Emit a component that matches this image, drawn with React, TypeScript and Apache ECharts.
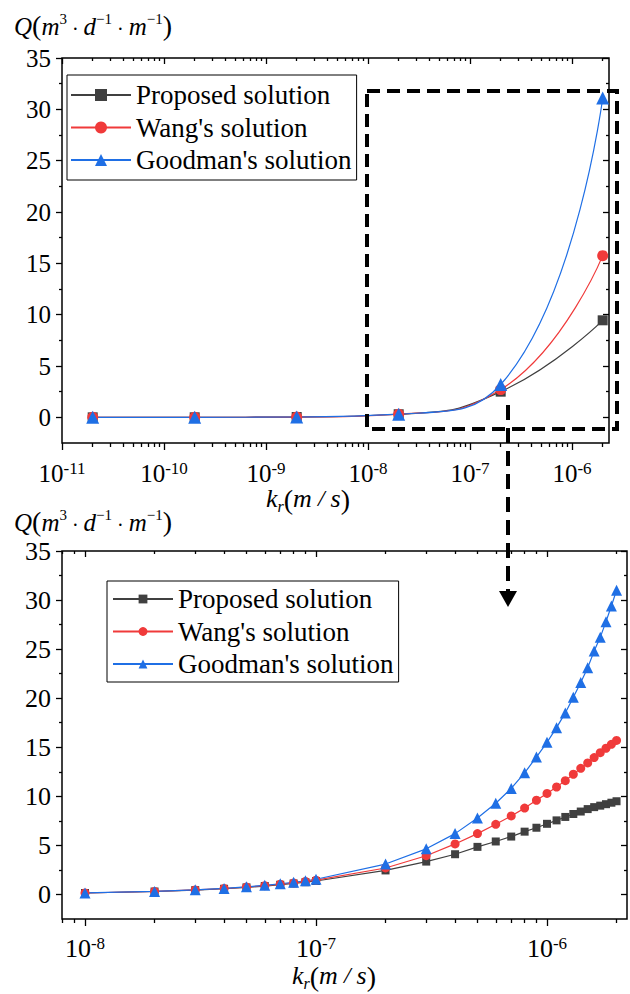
import React, { useEffect, useRef } from "react";
import * as echarts from "echarts";

// ---------- data ----------
const seriesNames = ["Proposed solution", "Wang's solution", "Goodman's solution"];

// upper chart: k_r values (m/s) and Q values at the markers
const kTop = [2e-11, 2e-10, 2e-9, 2e-8, 2e-7, 2e-6];
const proposedTop = [0.0003, 0.003, 0.03, 0.3, 2.5, 9.45];
const wangTop = [0.0003, 0.003, 0.03, 0.31, 2.7, 15.75];
const goodmanTop = [0.0003, 0.0031, 0.031, 0.31, 3.2, 31.1];

// lower chart: dense k_r values (m/s)
const kDense = [
  1e-8, 2e-8, 3e-8, 4e-8, 5e-8, 6e-8, 7e-8, 8e-8, 9e-8, 1e-7,
  2e-7, 3e-7, 4e-7, 5e-7, 6e-7, 7e-7, 8e-7, 9e-7, 1e-6,
  1.1e-6, 1.2e-6, 1.3e-6, 1.4e-6, 1.5e-6, 1.6e-6, 1.7e-6, 1.8e-6, 1.9e-6, 2e-6,
];
const proposedDense = [
  0.15, 0.3, 0.44, 0.58, 0.72, 0.86, 0.99, 1.12, 1.25, 1.37,
  2.45, 3.35, 4.1, 4.85, 5.4, 5.9, 6.4, 6.8, 7.2,
  7.55, 7.9, 8.2, 8.45, 8.7, 8.9, 9.05, 9.2, 9.35, 9.5,
];
const wangDense = [
  0.15, 0.31, 0.46, 0.61, 0.75, 0.9, 1.04, 1.18, 1.32, 1.46,
  2.7, 3.95, 5.15, 6.2, 7.15, 8.0, 8.8, 9.6, 10.3,
  10.95, 11.6, 12.25, 12.85, 13.4, 13.95, 14.45, 14.9, 15.3, 15.7,
];
const goodmanDense = [
  0.16, 0.31, 0.47, 0.62, 0.78, 0.93, 1.09, 1.24, 1.4, 1.55,
  3.1, 4.65, 6.2, 7.8, 9.3, 10.8, 12.4, 14.0, 15.5,
  17.0, 18.5, 20.1, 21.6, 23.1, 24.8, 26.2, 27.8, 29.4, 31.0,
];

// ticks
const yMajorTicks = [0, 5, 10, 15, 20, 25, 30, 35];
const yMinorTicks = [2.5, 7.5, 12.5, 17.5, 22.5, 27.5, 32.5];
const topDecades = [-11, -10, -9, -8, -7, -6];
const bottomDecades = [-8, -7, -6];

// ---------- styling ----------
const FONT = "'Liberation Serif', 'Times New Roman', serif";
const GRAY = "#404040";
const RED = "#f03a3a";
const BLUE = "#1f6fe5";
const colors = [GRAY, RED, BLUE];
const symbols = ["rect", "circle", "triangle"];

function minorLogTicks(min: number, max: number) {
  const out: number[] = [];
  for (let n = Math.floor(min); n <= Math.ceil(max); n++) {
    for (let j = 2; j <= 9; j++) {
      const v = n + Math.log10(j);
      if (v >= min && v <= max) out.push(v);
    }
  }
  return out;
}

const tickLine = { color: "#000", width: 1.3 };

function makeXAxes(grid: number, min: number, max: number, decades: number[], margin: number, fs: number) {
  const minors = minorLogTicks(min, max);
  const base = {
    gridIndex: grid,
    type: "value",
    min,
    max,
    splitLine: { show: false },
    axisLine: { show: false, onZero: false },
  };
  return [
    {
      ...base,
      position: "bottom",
      axisTick: { show: true, customValues: decades, length: 7, lineStyle: tickLine },
      axisLabel: {
        show: true,
        customValues: decades,
        margin,
        formatter: (v: number) => `{b|10}{s|${Math.round(v)}}`,
        rich: {
          b: { fontSize: fs, fontFamily: FONT, color: "#000", lineHeight: 26, verticalAlign: "bottom" },
          s: { fontSize: 17, fontFamily: FONT, color: "#000", lineHeight: 14, verticalAlign: "top" },
        },
      },
    },
    {
      ...base,
      position: "bottom",
      axisTick: { show: true, customValues: minors, length: 4, lineStyle: tickLine },
      axisLabel: { show: false },
    },
    {
      ...base,
      position: "top",
      axisTick: { show: true, inside: true, customValues: decades, length: 6, lineStyle: tickLine },
      axisLabel: { show: false },
    },
    {
      ...base,
      position: "top",
      axisTick: { show: true, inside: true, customValues: minors, length: 3, lineStyle: tickLine },
      axisLabel: { show: false },
    },
  ];
}

function makeYAxes(grid: number, fs: number) {
  const base = {
    gridIndex: grid,
    type: "value",
    min: -2.5,
    max: 35,
    splitLine: { show: false },
    axisLine: { show: false, onZero: false },
  };
  return [
    {
      ...base,
      position: "left",
      axisTick: { show: true, customValues: yMajorTicks, length: 6, lineStyle: tickLine },
      axisLabel: {
        show: true,
        customValues: yMajorTicks,
        margin: 11,
        fontSize: fs,
        fontFamily: FONT,
        color: "#000",
      },
    },
    {
      ...base,
      position: "left",
      axisTick: { show: true, customValues: yMinorTicks, length: 3, lineStyle: tickLine },
      axisLabel: { show: false },
    },
    {
      ...base,
      position: "right",
      axisTick: { show: true, inside: true, customValues: yMajorTicks, length: 6, lineStyle: tickLine },
      axisLabel: { show: false },
    },
    {
      ...base,
      position: "right",
      axisTick: { show: true, inside: true, customValues: yMinorTicks, length: 3, lineStyle: tickLine },
      axisLabel: { show: false },
    },
  ];
}

function makeSeries(axisIndex: number, ks: number[], valuesList: number[][], sizes: number[], smooth: boolean) {
  return seriesNames.map((name, s) => ({
    name,
    type: "line",
    xAxisIndex: axisIndex,
    yAxisIndex: axisIndex,
    symbol: symbols[s],
    symbolSize: sizes[s],
    showSymbol: true,
    showAllSymbol: true,
    smooth,
    itemStyle: { color: colors[s] },
    lineStyle: { color: colors[s], width: 1.2 },
    emphasis: { disabled: true },
    data: ks.map((k, i) => [Math.log10(k), valuesList[s][i]]),
  }));
}

function titleQ(x: number, y: number) {
  return {
    type: "text",
    x,
    y,
    style: {
      text: "{i|Q}{p|(}{i|m}{s|3}{n| · }{i|d}{s|−1}{n| · }{i|m}{s|−1}{p|)}",
      verticalAlign: "middle",
      align: "left",
      rich: {
        i: { fontStyle: "italic", fontSize: 25, fontFamily: FONT, fill: "#000", lineHeight: 28, verticalAlign: "bottom" },
        p: { fontSize: 28, fontFamily: FONT, fill: "#000", lineHeight: 28, verticalAlign: "bottom" },
        n: { fontSize: 20, fontFamily: FONT, fill: "#000", lineHeight: 28, verticalAlign: "bottom" },
        s: { fontSize: 15, fontFamily: FONT, fill: "#000", lineHeight: 14, verticalAlign: "top" },
      },
    },
  };
}

function titleK(x: number, y: number) {
  return {
    type: "text",
    x,
    y,
    style: {
      text: "{i|k}{sub|r}{p|(}{i|m}{n| / }{i|s}{p|)}",
      verticalAlign: "middle",
      align: "center",
      rich: {
        i: { fontStyle: "italic", fontSize: 26, fontFamily: FONT, fill: "#000", lineHeight: 24, verticalAlign: "top" },
        p: { fontSize: 28, fontFamily: FONT, fill: "#000", lineHeight: 24, verticalAlign: "top" },
        n: { fontStyle: "italic", fontSize: 24, fontFamily: FONT, fill: "#000", lineHeight: 24, verticalAlign: "top" },
        sub: { fontStyle: "italic", fontSize: 16, fontFamily: FONT, fill: "#000", lineHeight: 29, verticalAlign: "bottom" },
      },
    },
  };
}

export default function App() {
  const ref = useRef<HTMLDivElement>(null);

  useEffect(() => {
    if (!ref.current) return;
    const chart = echarts.init(ref.current, null, { renderer: "svg" });

    const topValues = [proposedTop, wangTop, goodmanTop];
    const bottomValues = [proposedDense, wangDense, goodmanDense];

    const legendBase = {
      data: seriesNames,
      orient: "vertical",
      itemWidth: 60,
      itemGap: 5.5,
      borderColor: "#000",
      borderWidth: 1,
      backgroundColor: "#fff",
      selectedMode: false,
      textStyle: { fontFamily: FONT, fontSize: 27, lineHeight: 27, color: "#000" },
    };

    const option: any = {
      animation: false,
      backgroundColor: "#fff",
      grid: [
        { left: 62, top: 58, width: 547, height: 385, show: true, borderColor: "#000", borderWidth: 1.5 },
        { left: 62, top: 551, width: 565, height: 368, show: true, borderColor: "#000", borderWidth: 1.5 },
      ],
      xAxis: [
        ...makeXAxes(0, -11, -5.637, topDecades, 17, 25),
        ...makeXAxes(1, -8.0996, -5.6537, bottomDecades, 16, 26),
      ],
      yAxis: [...makeYAxes(0, 25), ...makeYAxes(1, 26)],
      legend: [
        { ...legendBase, left: 67, top: 75, itemHeight: 15, padding: [6.5, 5, 6.5, 3] },
        { ...legendBase, left: 107, top: 581, itemHeight: 11, padding: [4.5, 5, 4.5, 5] },
      ],
      series: [
        ...makeSeries(0, kTop, topValues, [10, 11, 13], true),
        ...makeSeries(4, kDense, bottomValues, [8, 9, 11], false),
      ],
      graphic: [
        titleQ(14, 25),
        titleQ(14, 521),
        titleK(308, 500),
        titleK(334, 977),
        {
          type: "rect",
          z: 100,
          shape: { x: 367, y: 91, width: 250, height: 338 },
          style: { fill: "none", stroke: "#000", lineWidth: 4, lineDash: [13, 7] },
        },
        {
          type: "line",
          z: 100,
          shape: { x1: 508, y1: 405, x2: 508, y2: 592 },
          style: { stroke: "#000", lineWidth: 4, lineDash: [15, 8] },
        },
        {
          type: "polygon",
          z: 100,
          shape: { points: [[499, 591], [517, 591], [508, 607]] },
          style: { fill: "#000" },
        },
      ],
    };

    chart.setOption(option);
    return () => chart.dispose();
  }, []);

  return (
    <div
      ref={ref}
      style={{ position: "absolute", left: 0, top: 0, width: 630, height: 994, background: "#fff" }}
    />
  );
}
